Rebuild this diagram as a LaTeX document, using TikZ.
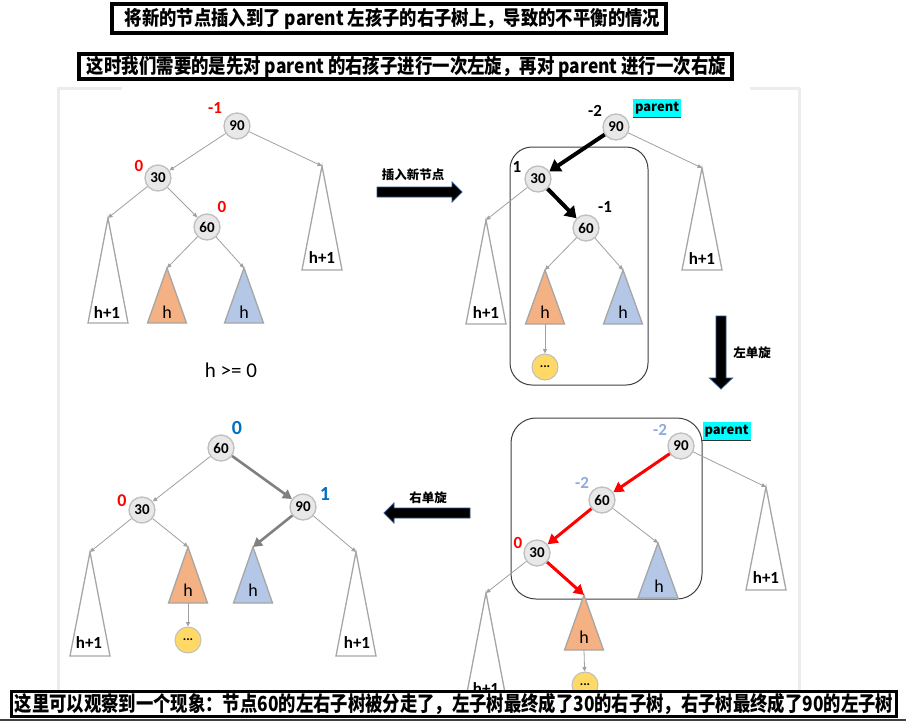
\documentclass[tikz,border=0pt]{standalone}
\usepackage{fontspec}
\setmainfont{Carlito}
\newfontfamily\cjk{Noto Sans CJK SC}
\usetikzlibrary{arrows.meta}
\definecolor{nodefill}{HTML}{E8E8E8}
\definecolor{nodeborder}{HTML}{BFBFBF}
\definecolor{edgecol}{HTML}{A0A0A0}
\definecolor{tricol}{HTML}{A6A6A6}
\definecolor{orangefill}{HTML}{F4B183}
\definecolor{bluefill}{HTML}{B4C7E7}
\definecolor{yellowfill}{HTML}{FFD966}
\definecolor{lightblue}{HTML}{8FAADC}
\definecolor{darkblue}{HTML}{0070C0}
\definecolor{framegray}{HTML}{EBEBF0}
\definecolor{arrowedge}{HTML}{2F528F}
\definecolor{boxline}{HTML}{404040}
\definecolor{hicyan}{HTML}{00FFFF}
\definecolor{redlab}{HTML}{FF0000}
\tikzset{
  bn/.style={circle, draw=nodeborder, fill=nodefill, line width=1.3pt, minimum size=26pt, inner sep=0pt, font=\fontsize{15}{17}\selectfont\bfseries},
  yn/.style={circle, draw=nodeborder, fill=yellowfill, line width=1pt, minimum size=26pt, inner sep=0pt, font=\fontsize{13}{15}\selectfont\bfseries},
  tri/.style={draw=tricol, line width=1.3pt, line join=miter},
  thinedge/.style={draw=edgecol, line width=0.8pt, -{Triangle[length=4.5pt,width=4pt]}},
  blackedge/.style={draw=black, line width=4pt, -{Triangle[length=11pt,width=14pt]}},
  rededge/.style={draw=redlab, line width=3pt, -{Triangle[length=10pt,width=11pt]}},
  grayedge/.style={draw=black!50, line width=2.6pt, -{Triangle[length=9pt,width=10pt]}},
  bf/.style={font=\fontsize{17}{19}\selectfont\bfseries},
  bfbig/.style={font=\fontsize{20}{22}\selectfont\bfseries},
  hlab/.style={anchor=base, font=\fontsize{17}{19}\selectfont\bfseries, inner sep=0pt},
  hreg/.style={anchor=base, font=\fontsize{18}{20}\selectfont, inner sep=0pt},
  blockarrow/.style={fill=black, draw=arrowedge, line width=0.8pt},
  arrlab/.style={font=\cjk\bfseries\fontsize{12.5}{14}\selectfont},
  roundbox/.style={draw=boxline, line width=1pt, rounded corners=22pt},
  titlebox/.style={draw=black, line width=4pt, fill=white},
  parentlab/.style={fill=hicyan, inner sep=0pt, minimum width=48pt, minimum height=19pt}
}
\begin{document}
\begin{tikzpicture}[x=1pt,y=-1pt]
\useasboundingbox (0,0) rectangle (906,721);
\fill[white] (0,0) rectangle (906,721);
% page frame
\draw[framegray, line width=3pt] (57,88) -- (122,88);
\draw[framegray, line width=3pt] (750,88) -- (800,88);
\draw[framegray, line width=3pt] (58,88) -- (58,690);
\draw[framegray, line width=3pt] (799,88) -- (799,690);
% titles
\node[titlebox, minimum width=554pt, minimum height=29pt, inner sep=0pt] (t1) at (389,18.5) {};
\node (t1t) at (392.5,19) {\resizebox{535pt}{!}{\scalebox{1}[1.15]{\cjk\bfseries 将新的节点插入到了 parent 左孩子的右子树上，导致的不平衡的情况}}};
\node[titlebox, minimum width=653pt, minimum height=25pt, inner sep=0pt] (t2) at (405.5,66.5) {};
\node (t2t) at (406.5,67) {\resizebox{639pt}{!}{\scalebox{1}[1.15]{\cjk\bfseries 这时我们需要的是先对 parent 的右孩子进行一次左旋，再对 parent 进行一次右旋}}};

% ---------- top-left tree ----------
\node[bn] (a90) at (237,126) {90};
\node[bn] (a30) at (158,178) {30};
\node[bn] (a60) at (207,227) {60};
\node[bf, redlab] (a90b) at (215,108) {-1};
\node[bf, redlab] (a30b) at (139,166) {0};
\node[bf, redlab] (a60b) at (222,207) {0};
\coordinate (aL) at (108,218);
\coordinate (aO) at (167,268);
\coordinate (aB) at (244,268);
\coordinate (aR) at (322,166);
\draw[tri, fill=white] (aL) -- ++(-20,105) -- ++(40,0) -- cycle;
\draw[tri, fill=orangefill] (aO) -- ++(-19.5,55) -- ++(39,0) -- cycle;
\draw[tri, fill=bluefill] (aB) -- ++(-19.5,55) -- ++(39,0) -- cycle;
\draw[tri, fill=white] (aR) -- ++(-20,104) -- ++(40,0) -- cycle;
\node[hlab] (aLt) at (107,318) {h+1};
\node[hreg] (aOt) at (167,318) {h};
\node[hreg] (aBt) at (244,318) {h};
\node[hlab] (aRt) at (322,263) {h+1};
\draw[thinedge] (a90) -- (a30);
\draw[thinedge] (a90) -- (aR);
\draw[thinedge] (a30) -- (aL);
\draw[thinedge] (a30) -- (a60);
\draw[thinedge] (a60) -- (aO);
\draw[thinedge] (a60) -- (aB);
\node[font=\fontsize{21}{23}\selectfont] (hge) at (231,370) {h >= 0};

% arrow 1
\path[blockarrow] (377,187) -- (452,187) -- (452,182) -- (462,192) -- (452,202) -- (452,197) -- (377,197) -- cycle;
\node[arrlab] (ar1) at (413,175) {插入新节点};

% ---------- top-right tree ----------
\draw[roundbox] (510,147) rectangle (648,385);
\node[bn] (b90) at (616,127) {90};
\node[bn] (b30) at (538,179) {30};
\node[bn] (b60) at (586,228) {60};
\node[bf] (b90b) at (595,111) {-2};
\node[bf] (b30b) at (517,167) {1};
\node[bf] (b60b) at (605,207) {-1};
\node[parentlab] (p1) at (657,108) {\resizebox{44pt}{!}{\cjk\bfseries parent}};
\draw[black!80, line width=1pt] (p1.south west) -- (p1.south east);
\coordinate (bL) at (486,220);
\coordinate (bO) at (545,270);
\coordinate (bOb) at (545,324);
\coordinate (bB) at (623,270);
\coordinate (bR) at (702,168);
\draw[tri, fill=white] (bL) -- ++(-20,104) -- ++(40,0) -- cycle;
\draw[tri, fill=orangefill] (bO) -- ++(-19.5,54) -- ++(39,0) -- cycle;
\draw[tri, fill=bluefill] (bB) -- ++(-19.5,54) -- ++(39,0) -- cycle;
\draw[tri, fill=white] (bR) -- ++(-20,102) -- ++(40,0) -- cycle;
\node[hlab] (bLt) at (486,318) {h+1};
\node[hreg] (bOt) at (545,318) {h};
\node[hreg] (bBt) at (623,318) {h};
\node[hlab] (bRt) at (702,264) {h+1};
\node[yn] (bY) at (545,367) {...};
\draw[blackedge] (b90) -- (b30);
\draw[blackedge] (b30) -- (b60);
\draw[thinedge] (b90) -- (bR);
\draw[thinedge] (b30) -- (bL);
\draw[thinedge] (b60) -- (bO);
\draw[thinedge] (b60) -- (bB);
\draw[thinedge] (bOb) -- (bY);

% arrow 2 (down)
\path[blockarrow] (716,316) -- (726,316) -- (726,378) -- (732.5,378) -- (721,389) -- (709.5,378) -- (716,378) -- cycle;
\node[arrlab] (ar2) at (752,353) {左单旋};

% ---------- bottom-right tree ----------
\draw[roundbox, rounded corners=25pt] (511,418) rectangle (702,599);
\node[bn] (c90) at (681,446) {90};
\node[bn] (c60) at (602,500) {60};
\node[bn] (c30) at (537,553) {30};
\node[bf, lightblue] (c90b) at (660,430) {-2};
\node[bf, lightblue] (c60b) at (582,483) {-2};
\node[bf, redlab] (c30b) at (518,543) {0};
\node[parentlab] (p2) at (726.5,431) {\resizebox{44pt}{!}{\cjk\bfseries parent}};
\draw[black!80, line width=1pt] (p2.south west) -- (p2.south east);
\coordinate (cB) at (658,543);
\coordinate (cO) at (584,595);
\coordinate (cOb) at (584,650);
\coordinate (cL) at (486,593);
\coordinate (cR) at (766,487);
\draw[tri, fill=bluefill] (cB) -- ++(-20,55) -- ++(40,0) -- cycle;
\draw[tri, fill=orangefill] (cO) -- ++(-19.5,55) -- ++(39,0) -- cycle;
\draw[tri, fill=white] (cL) -- ++(-20,105) -- ++(40,0) -- cycle;
\draw[tri, fill=white] (cR) -- ++(-20,103) -- ++(40,0) -- cycle;
\node[hreg] (cBt) at (659,592) {h};
\node[hreg] (cOt) at (584,643) {h};
\node[hlab] (cLt) at (486,694) {h+1};
\node[hlab] (cRt) at (766,583) {h+1};
\node[yn] (cY) at (585,685) {...};
\draw[rededge] (c90) -- (c60);
\draw[rededge] (c60) -- (c30);
\draw[rededge] (c30) -- (cO);
\draw[thinedge] (c90) -- (cR);
\draw[thinedge] (c60) -- (cB);
\draw[thinedge] (c30) -- (cL);
\draw[thinedge] (cOb) -- (cY);

% arrow 3 (left)
\path[blockarrow] (470,508) -- (394,508) -- (394,503) -- (384,513) -- (394,523) -- (394,518) -- (470,518) -- cycle;
\node[arrlab] (ar3) at (428,498) {右单旋};

% ---------- bottom-left tree ----------
\node[bn] (d60) at (221,448) {60};
\node[bn] (d30) at (142,510) {30};
\node[bn] (d90) at (303,507) {90};
\node[bfbig, darkblue] (d60b) at (237,428) {0};
\node[bf, redlab, font=\fontsize{18}{20}\selectfont\bfseries] (d30b) at (122,501) {0};
\node[bfbig, darkblue] (d90b) at (325,494) {1};
\coordinate (dL) at (90,552);
\coordinate (dO) at (188,547);
\coordinate (dOb) at (188,603);
\coordinate (dB) at (253,547);
\coordinate (dR) at (356,552);
\draw[tri, fill=white] (dL) -- ++(-20,104) -- ++(40,0) -- cycle;
\draw[tri, fill=orangefill] (dO) -- ++(-19.5,56) -- ++(39,0) -- cycle;
\draw[tri, fill=bluefill] (dB) -- ++(-19.5,56) -- ++(39,0) -- cycle;
\draw[tri, fill=white] (dR) -- ++(-20,104) -- ++(40,0) -- cycle;
\node[hlab] (dLt) at (89,648) {h+1};
\node[hreg] (dOt) at (188,596) {h};
\node[hreg] (dBt) at (253,596) {h};
\node[hlab] (dRt) at (357,648) {h+1};
\node[yn] (dY) at (188,640) {...};
\draw[thinedge] (d60) -- (d30);
\draw[grayedge] (d60) -- (d90);
\draw[thinedge] (d30) -- (dL);
\draw[thinedge] (d30) -- (dO);
\draw[grayedge] (d90) -- (dB);
\draw[thinedge] (d90) -- (dR);
\draw[thinedge] (dOb) -- (dY);

% caption
\node[draw=black, line width=3pt, fill=white, minimum width=885pt, minimum height=25pt, inner sep=0pt] (cap) at (453.5,704) {};
\node (capt) at (454,704) {\resizebox{878pt}{!}{\scalebox{1}[1.2]{\cjk\bfseries 这里可以观察到一个现象：节点60的左右子树被分走了，左子树最终成了30的右子树，右子树最终成了90的左子树}}};
\fill[boxline] (0,719) rectangle (906,721);
\end{tikzpicture}
\end{document}
